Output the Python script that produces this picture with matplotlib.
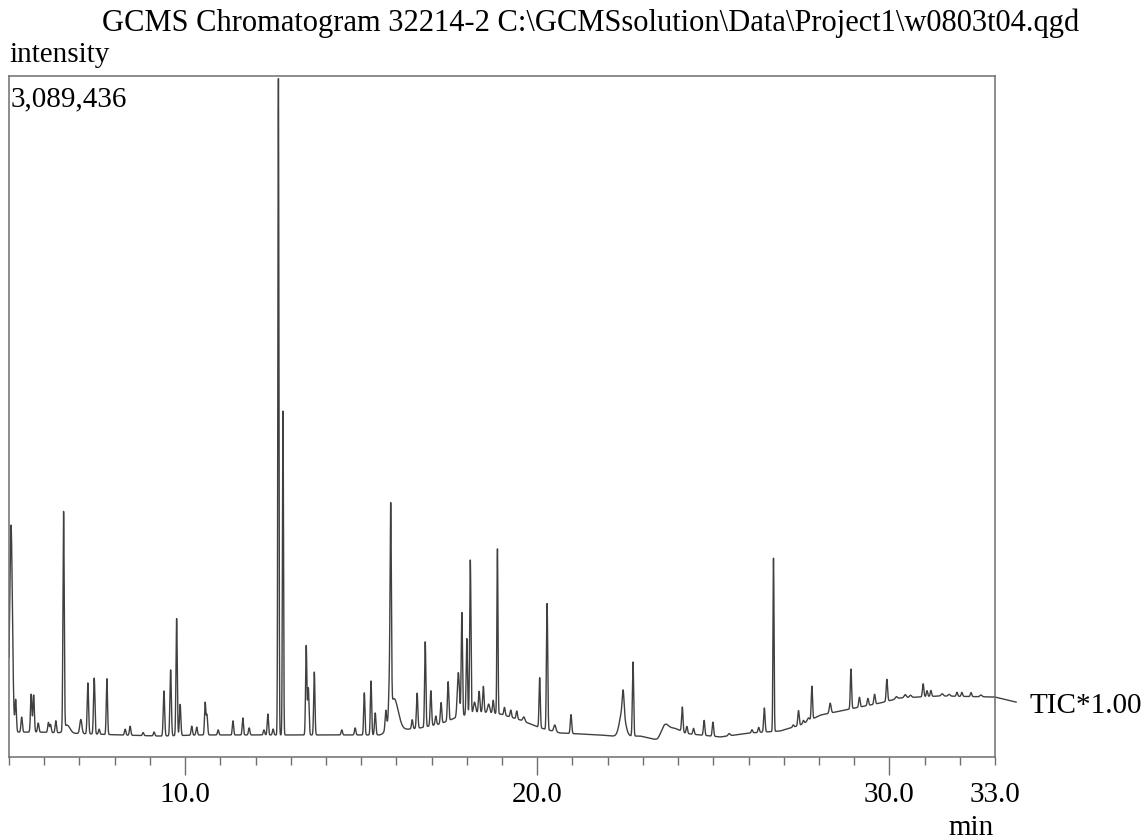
import numpy as np
import matplotlib.pyplot as plt

# baseline of the TIC trace (min, counts)
base_t = [5.0, 5.88, 8.15, 9.29, 10.43, 13.27, 15.54, 16.11, 16.68, 17.24, 17.81, 18.38,
          18.95, 19.52, 20.09, 20.65, 21.79, 22.13, 22.93, 23.41, 24.06, 25.20, 26.05,
          26.90, 27.47, 28.04, 28.89, 29.74, 30.31, 31.45, 33.0]
base_i = [113e3, 113e3, 100e3, 95e3, 100e3, 100e3, 100e3, 122e3, 132e3, 150e3, 186e3, 204e3,
          195e3, 168e3, 132e3, 109e3, 100e3, 95e3, 95e3, 77e3, 109e3, 91e3, 109e3,
          118e3, 145e3, 190e3, 218e3, 245e3, 268e3, 277e3, 272e3]

# peak table: retention time (min), height above baseline (counts), width (min)
peak_t = [5.057, 5.19, 5.36, 5.63, 5.70, 5.83, 6.12, 6.18, 6.33, 6.55, 6.65,
          7.04, 7.24, 7.42, 7.56, 7.78, 8.30, 8.44, 8.81, 9.12, 9.40, 9.59, 9.76, 9.86,
          10.19, 10.33, 10.57, 10.62, 10.94, 11.36, 11.64, 11.82, 12.24, 12.35, 12.50,
          12.65, 12.78, 13.44, 13.50, 13.67, 14.45, 14.83, 15.09, 15.28, 15.40, 15.70,
          15.80, 15.84, 15.93, 16.45, 16.59, 16.82, 16.98, 17.12, 17.27, 17.47, 17.76,
          17.86, 18.00, 18.10, 18.22, 18.35, 18.47, 18.62, 18.75, 18.87, 19.07, 19.25,
          19.42, 19.62, 20.07, 20.28, 20.50, 20.96, 22.42, 22.44, 22.72, 23.62, 23.85,
          24.12, 24.25, 24.44, 24.74, 24.99, 25.45, 26.10, 26.29, 26.45, 26.71, 27.27,
          27.42, 27.56, 27.70, 27.80, 28.32, 28.91, 29.15, 29.39, 29.58, 29.93, 30.20,
          30.45, 30.60, 30.96, 31.07, 31.18, 31.50, 31.70, 31.92, 32.06, 32.32, 32.60]
peak_h = [939e3, 145e3, 68e3, 172e3, 168e3, 41e3, 45e3, 36e3, 54e3, 989e3, 36e3,
          64e3, 231e3, 254e3, 23e3, 254e3, 27e3, 41e3, 14e3, 18e3, 204e3, 299e3, 531e3, 141e3,
          41e3, 36e3, 145e3, 91e3, 23e3, 64e3, 77e3, 32e3, 23e3, 95e3, 27e3,
          2985e3, 1475e3, 404e3, 213e3, 286e3, 23e3, 32e3, 191e3, 245e3, 100e3, 82e3,
          132e3, 912e3, 150e3, 41e3, 159e3, 386e3, 159e3, 40e3, 95e3, 177e3, 200e3,
          467e3, 345e3, 699e3, 50e3, 95e3, 118e3, 40e3, 59e3, 749e3, 36e3, 32e3,
          36e3, 20e3, 227e3, 572e3, 30e3, 86e3, 113e3, 100e3, 336e3, 50e3, 30e3,
          113e3, 32e3, 27e3, 68e3, 64e3, 10e3, 14e3, 23e3, 109e3, 789e3, 10e3,
          68e3, 14e3, 14e3, 150e3, 45e3, 181e3, 45e3, 32e3, 45e3, 100e3, 10e3,
          14e3, 10e3, 59e3, 27e3, 27e3, 10e3, 8e3, 18e3, 18e3, 18e3, 8e3]
peak_w = [0.04, 0.02, 0.02, 0.02, 0.02, 0.02, 0.02, 0.02, 0.02, 0.018, 0.08,
          0.03, 0.02, 0.02, 0.02, 0.018, 0.02, 0.02, 0.02, 0.02, 0.02, 0.02, 0.018, 0.02,
          0.02, 0.02, 0.018, 0.02, 0.02, 0.018, 0.018, 0.02, 0.02, 0.018, 0.02,
          0.015, 0.015, 0.018, 0.02, 0.018, 0.02, 0.02, 0.018, 0.018, 0.02, 0.02,
          0.02, 0.018, 0.12, 0.02, 0.02, 0.018, 0.02, 0.02, 0.02, 0.02, 0.03,
          0.018, 0.018, 0.018, 0.03, 0.02, 0.02, 0.03, 0.02, 0.015, 0.02, 0.02,
          0.02, 0.03, 0.018, 0.018, 0.03, 0.02, 0.08, 0.025, 0.018, 0.1, 0.15,
          0.02, 0.02, 0.02, 0.02, 0.02, 0.03, 0.02, 0.02, 0.02, 0.015, 0.02,
          0.02, 0.02, 0.03, 0.018, 0.025, 0.018, 0.02, 0.02, 0.02, 0.02, 0.03,
          0.03, 0.03, 0.02, 0.02, 0.02, 0.03, 0.03, 0.02, 0.02, 0.02, 0.03]

y_max = 3089436
title = r"GCMS Chromatogram 32214-2 C:\GCMSsolution\Data\Project1\w0803t04.qgd"

plt.rcParams['font.family'] = ['Liberation Serif', 'DejaVu Serif']

t = np.linspace(5.0, 33.0, 9000)
trace = np.interp(t, base_t, base_i)
for t0, h, w in zip(peak_t, peak_h, peak_w):
    trace = trace + h * np.exp(-0.5 * ((t - t0) / w) ** 2)

fig = plt.figure(figsize=(11.47, 8.39), dpi=100)
ax = fig.add_axes([9 / 1147, 82 / 839, 986 / 1147, 681 / 839])
ax.plot(t, trace, color='#404040', lw=1.0)
ax.set_xlim(5.0, 33.0)
ax.set_ylim(0, y_max)

for s in ax.spines.values():
    s.set_color('#6e6e6e')
    s.set_linewidth(1.1)

ax.set_yticks([])
ax.set_xticks([10, 20, 30, 33])
ax.set_xticklabels(['10.0', '20.0', '30.0', '33.0'], fontsize=21)
ax.set_xticks(np.arange(5, 34, 1), minor=True)
ax.tick_params(axis='x', which='major', direction='out', length=13, width=1.0,
               color='#6e6e6e', pad=5)
ax.tick_params(axis='x', which='minor', direction='out', length=6, width=1.0,
               color='#6e6e6e')
ax.xaxis.get_major_ticks()[-1].tick1line.set_markersize(6)

ax.text(0.002, 0.985, f"{y_max:,}", transform=ax.transAxes, fontsize=21,
        ha='left', va='top')

fig.text(591 / 1147, 1 - 31 / 839, title, fontsize=22, ha='center', va='baseline')
fig.text(9 / 1147, 1 - 62 / 839, 'intensity', fontsize=21, ha='left', va='baseline')
fig.text(994 / 1147, 1 - 828 / 839, 'min', fontsize=21, ha='right', va='center')

# label line from end of trace to TIC label
ax.plot([33.0, 33.6], [trace[-1], trace[-1] - 23000], color='#404040', lw=1.0,
        clip_on=False)
fig.text(1030 / 1147, 1 - 706 / 839, 'TIC*1.00', fontsize=21, ha='left', va='center')

fig.savefig('out.png', dpi=100)
